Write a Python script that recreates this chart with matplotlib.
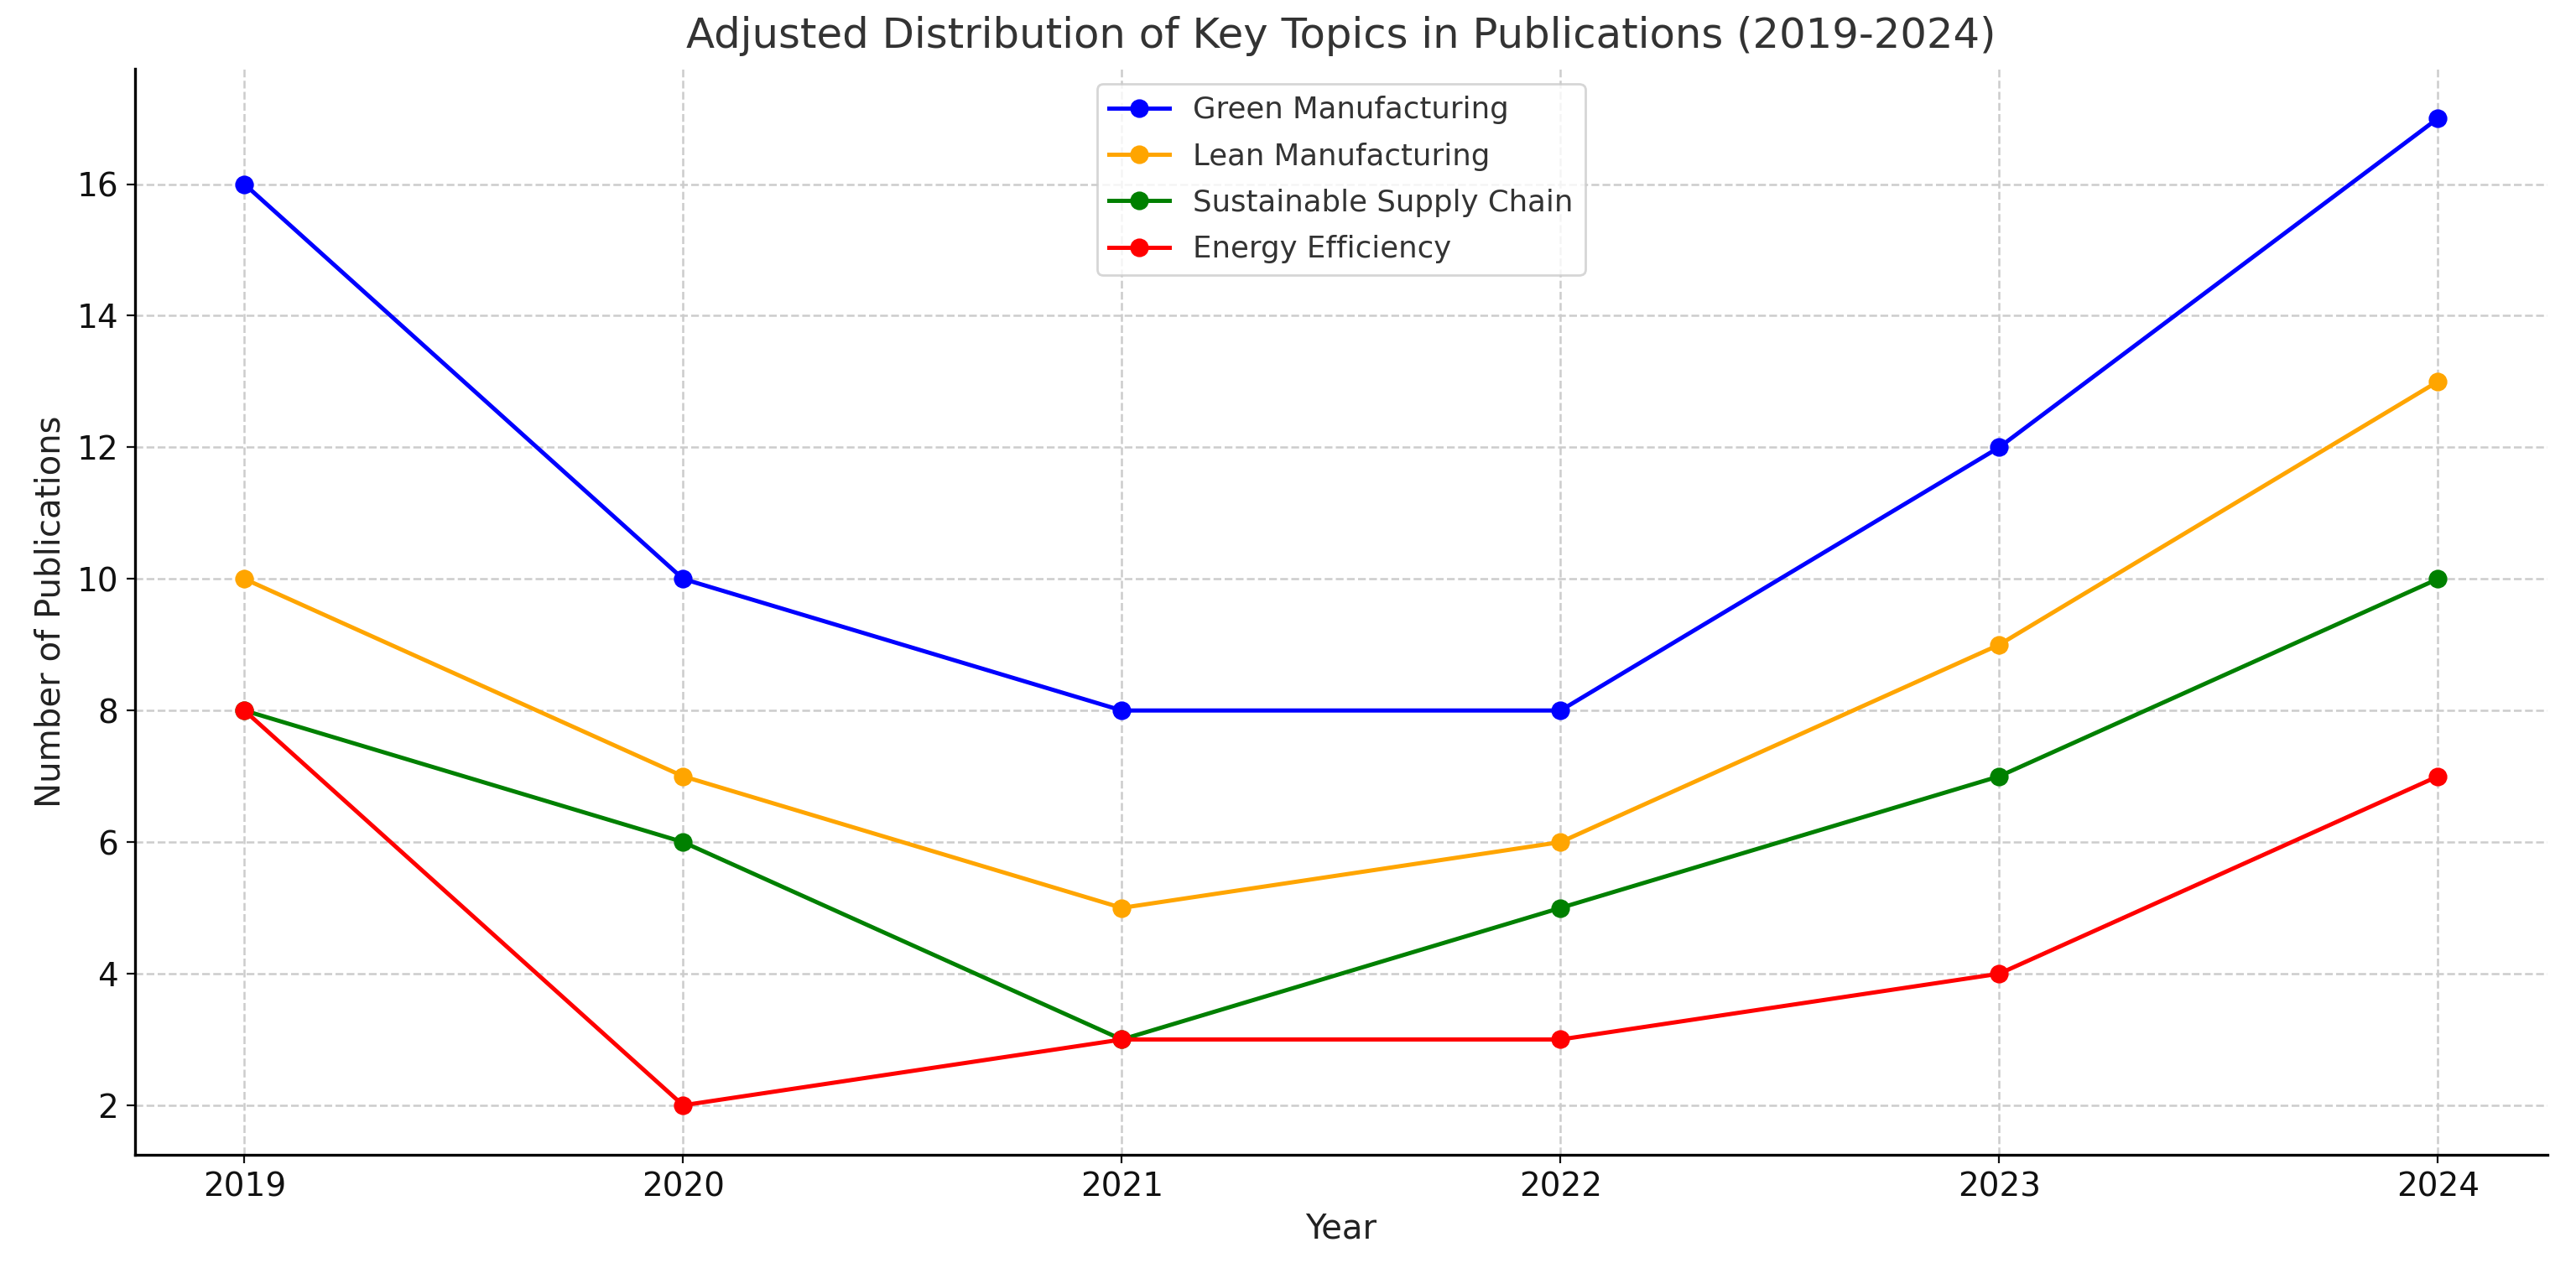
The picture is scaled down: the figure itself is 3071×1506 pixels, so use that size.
import matplotlib
matplotlib.use("Agg")
import matplotlib.pyplot as plt

# data
years = [2019, 2020, 2021, 2022, 2023, 2024]
green_manufacturing = [16, 10, 8, 8, 12, 17]
lean_manufacturing = [10, 7, 5, 6, 9, 13]
sustainable_supply_chain = [8, 6, 3, 5, 7, 10]
energy_efficiency = [8, 2, 3, 3, 4, 7]

series_names = ["Green Manufacturing", "Lean Manufacturing",
                "Sustainable Supply Chain", "Energy Efficiency"]
series_colors = ["blue", "orange", "green", "red"]


def main():
    fig = plt.figure(figsize=(15.355, 7.53), dpi=200)
    ax = fig.add_axes([0.0523, 0.0858, 0.9367, 0.8596])

    all_series = [green_manufacturing, lean_manufacturing,
                  sustainable_supply_chain, energy_efficiency]
    for values, name, color in zip(all_series, series_names, series_colors):
        ax.plot(years, values, marker="o", color=color, label=name,
                linewidth=1.8, markersize=7)

    ax.set_title("Adjusted Distribution of Key Topics in Publications (2019-2024)",
                 fontsize=17.9, color="#333333", pad=9)
    ax.set_xlabel("Year", fontsize=14.5, color="#222222")
    ax.set_ylabel("Number of Publications", fontsize=14.5, color="#222222")
    ax.set_xticks(years)
    ax.tick_params(labelsize=14, colors="#111111")

    ax.grid(True, linestyle="--", color="#cccccc", linewidth=0.9)
    ax.spines["top"].set_visible(False)
    ax.spines["right"].set_visible(False)
    for side in ["left", "bottom"]:
        ax.spines[side].set_linewidth(1.2)

    leg = ax.legend(loc="upper center", fontsize=12.8, frameon=True,
                    labelspacing=0.6)
    for text in leg.get_texts():
        text.set_color("#333333")

    fig.savefig("out.png", dpi=200)


if __name__ == "__main__":
    main()
